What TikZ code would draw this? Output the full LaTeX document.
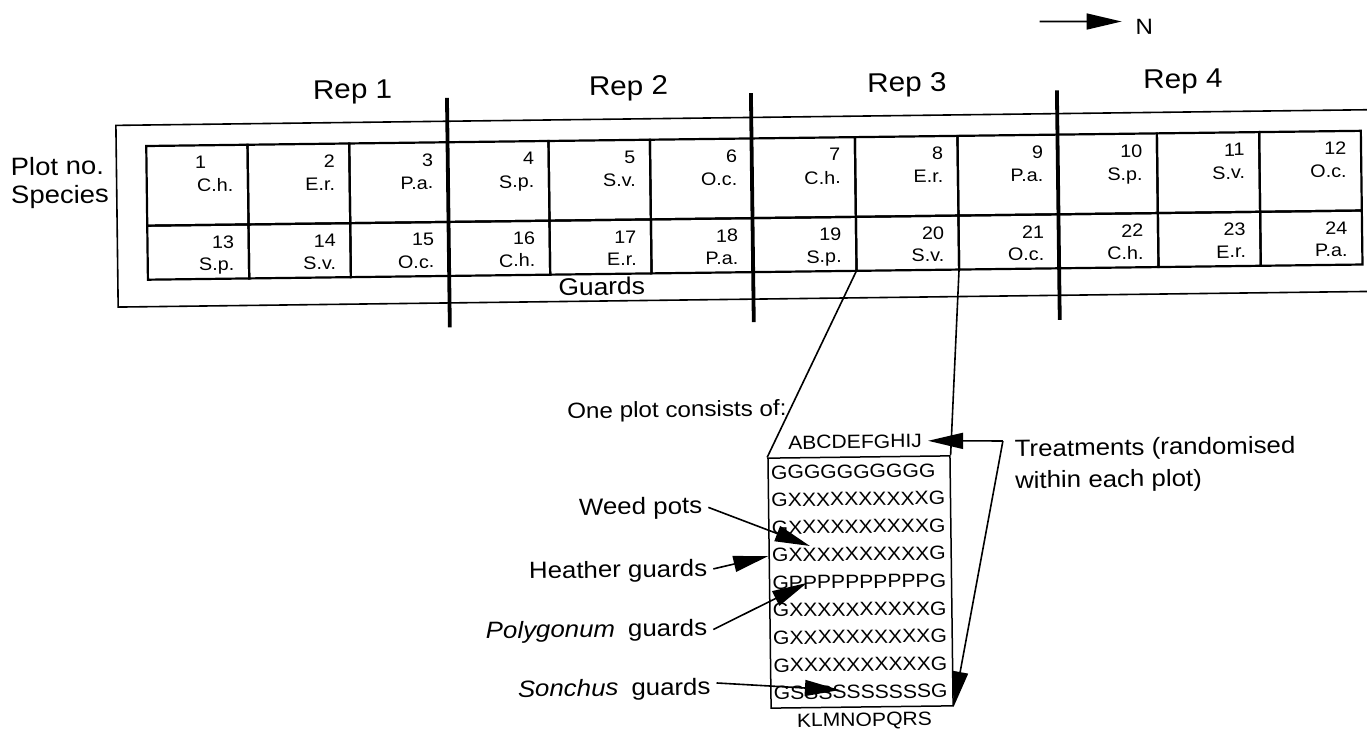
\documentclass[tikz,border=0pt]{standalone}
\usepackage{fontspec}
\setmainfont{Liberation Sans}[FakeStretch=1.1]
\usetikzlibrary{arrows.meta}
\begin{document}
\begin{tikzpicture}[x=1pt,y=-1pt,
  cellbox/.style={draw, line width=2.2pt, inner sep=0pt, outer sep=0pt},
  celltxt/.style={font=\fontsize{18}{20}\selectfont, inner sep=0pt},
  replbl/.style={font=\fontsize{27}{30}\selectfont, inner sep=0pt},
  sidelbl/.style={font=\fontsize{25}{28}\selectfont, inner sep=0pt},
  lbl/.style={font=\fontsize{23.5}{28}\selectfont, inner xsep=6pt, inner ysep=0pt},
  boxtxt/.style={font=\fontsize{19.2}{22}\selectfont, inner sep=0pt},
  conn/.style={line width=1.6pt},
  arr/.style={-{Triangle[length=35pt,width=16pt]}},
  divider/.style={line width=3.8pt},
  guardline/.style={line width=1.6pt}
]
\fill[white] (0,0) rectangle (1367,729);
\useasboundingbox (0,0) rectangle (1367,729);
\clip (0,0) rectangle (1367,729);
\begin{scope}[rotate around={0.716:(683,364)}, transform shape]
  % north arrow
  \coordinate (nstart) at (1044,26);
  \coordinate (ntip) at (1126,27);
  \node[font=\fontsize{22}{24}\selectfont, inner sep=0pt, anchor=base west] (north) at (1139.4,39.8) {N};
  \draw[conn,arr] (nstart) -- (ntip);

  % rep labels
  \node[replbl, anchor=base] (rep1) at (356,94.5) {Rep 1};
  \node[replbl, anchor=base] (rep2) at (632,94.5) {Rep 2};
  \node[replbl, anchor=base] (rep3) at (910.5,94.5) {Rep 3};
  \node[replbl, anchor=base] (rep4) at (1186.5,94.5) {Rep 4};

  % side labels
  \node[sidelbl, anchor=base west] (plotno) at (13,167.2) {Plot no.};
  \node[sidelbl, anchor=base west] (species) at (13,195.5) {Species};

  % guard strip
  \draw[guardline] (1420,118.3) -- (118.9,118.3) -- (118.9,300) -- (1420,300);
  \node[font=\fontsize{24}{26}\selectfont, inner sep=0pt, anchor=base] (guards) at (602.7,294) {Guards};

  % plots
  \foreach \i/\l/\r/\sa/\sb/\o in {
      1/149/250.3/C.h./S.p./41.5,
      2/250.3/352/E.r./S.v./14.5,
      3/352/450.3/P.a./O.c./14.5,
      4/450.3/551.3/S.p./C.h./14.5,
      5/551.3/652.7/S.v./E.r./14.5,
      6/652.7/754.3/O.c./P.a./14.5,
      7/754.3/857.7/C.h./S.p./14.5,
      8/857.7/960.3/E.r./S.v./14.5,
      9/960.3/1060.3/P.a./O.c./14.5,
      10/1060.3/1159.7/S.p./C.h./14.5,
      11/1159.7/1262/S.v./E.r./14.5,
      12/1262/1363.7/O.c./P.a./14.5}{
    \pgfmathsetmacro\cx{(\l+\r)/2}
    \pgfmathsetmacro\w{\r-\l}
    \pgfmathsetmacro\nx{\r-\o}
    \pgfmathsetmacro\sx{\r-14.5}
    \pgfmathtruncatemacro\j{\i+12}
    \node[cellbox, minimum width=\w pt, minimum height=79.7pt] (c\i) at (\cx,179.15) {};
    \node[cellbox, minimum width=\w pt, minimum height=54pt] (c\j) at (\cx,246) {};
    \node[celltxt, anchor=base east] (n\i) at (\nx,162.8) {\i};
    \node[celltxt, anchor=base east] (s\i) at (\sx,185.8) {\sa};
    \node[celltxt, anchor=base east] (n\j) at (\sx,242.5) {\j};
    \node[celltxt, anchor=base east] (s\j) at (\sx,264.7) {\sb};
  }

  % rep dividers
  \draw[divider] (450.3,95) -- (450.3,324.5);
  \draw[divider] (754.3,94) -- (754.3,323);
  \draw[divider] (1060.3,95) -- (1060.3,324.5);

  % one plot detail
  \node[lbl, font=\fontsize{22}{26}\selectfont, anchor=base west] (oneplot) at (560.5,417) {One plot consists of:};
  \node[draw, line width=1.5pt, minimum width=182pt, minimum height=250pt, inner sep=0pt] (plot) at (857.8,584.2) {};
  \foreach \k/\t in {1/GGGGGGGGGG, 2/GXXXXXXXXXXG, 3/GXXXXXXXXXXG, 4/GXXXXXXXXXXG,
                     5/GPPPPPPPPPPG, 6/GXXXXXXXXXXG, 7/GXXXXXXXXXXG, 8/GXXXXXXXXXXG,
                     9/GSSSSSSSSSSG}{
    \pgfmathsetmacro\ry{480.2+(\k-1)*27.575}
    \node[boxtxt, anchor=base west] (row\k) at (769.5,\ry) {\t};
  }
  \node[boxtxt, anchor=base west] (trtA) at (787,450.5) {ABCDEFGHIJ};
  \node[boxtxt, anchor=base] (trtB) at (860,728.5) {KLMNOPQRS};

  \draw[conn] (c19.south east) -- (plot.north west);
  \draw[conn] (c20.south east) -- (plot.north east);

  % treatments
  \node[lbl, anchor=base west] (trtlbl1) at (1007.5,460.8) {Treatments (randomised};
  \node[lbl, anchor=base west] (trtlbl2) at (1007.5,492.5) {within each plot)};
  \coordinate (tv) at (1002,445);
  \draw[conn,arr] (tv) -- ([xshift=6pt]trtA.east);
  \draw[conn,arr] (tv) -- (plot.south east);

  % left labels
  \node[lbl, anchor=base east] (weed) at (706.6,513.8) {Weed pots};
  \node[lbl, anchor=base east] (heather) at (710.8,576.9) {Heather guards};
  \node[lbl, anchor=base east] (poly) at (710,636) {\textit{Polygonum}\hspace{0.55em}guards};
  \node[lbl, anchor=base east] (sonchus) at (712.6,695) {\textit{Sonchus}\hspace{0.55em}guards};
  \coordinate (weedtip) at (807.7,547.6);
  \coordinate (hthtip) at (766,557.1);
  \coordinate (polytip) at (804.3,584.5);
  \coordinate (sontip) at (835.9,692);
  \draw[conn,arr] (weed.east) -- (weedtip);
  \draw[conn,arr] ([yshift=1.5pt]heather.east) -- (hthtip);
  \draw[conn,arr] (poly.east) -- (polytip);
  \draw[conn,arr] ([yshift=5.5pt]sonchus.east) -- (sontip);
\end{scope}
\end{tikzpicture}
\end{document}
